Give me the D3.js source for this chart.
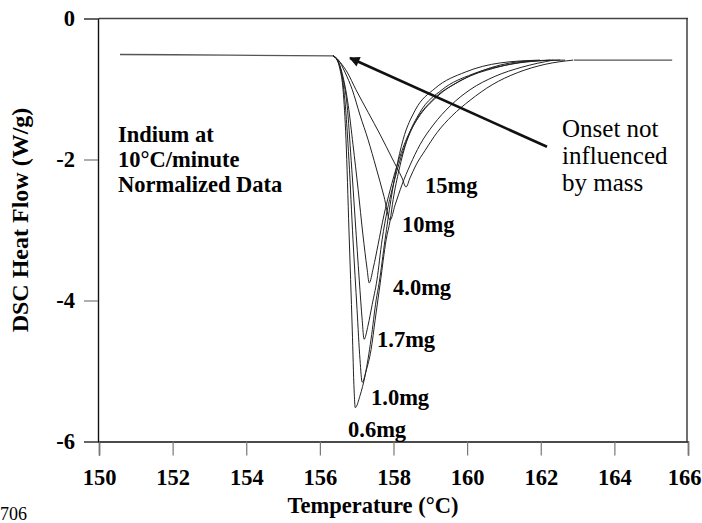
<!DOCTYPE html>
<html><head><meta charset="utf-8">
<script src="https://cdn.jsdelivr.net/npm/d3@7"></script>
<style>
html,body{margin:0;padding:0;background:#fff;}
svg{display:block;font-family:"Liberation Serif","Times New Roman",serif;}
</style></head>
<body>
<svg id="c" width="702" height="523"></svg>
<script>
// ---- data ----
const xTicks = [150,152,154,156,158,160,162,164,166];
const yTicks = [0,-2,-4,-6];
const seriesNames = ["0.6mg","1.0mg","1.7mg","4.0mg","10mg","15mg"];
const baseStartT = [150.57,153.5,156.36];
const baseStartHF = [-0.51,-0.52,-0.53];
const baseEndT = [162.9,164.2,165.57];
const baseEndHF = [-0.59,-0.59,-0.59];

const t06 = [156.36,156.47,156.55,156.63,156.71,156.79,156.88,156.93,156.96,157.09,157.23,157.39,157.53,157.61,157.77,157.93,158.07,158.26,158.59,159.13,159.95,160.90,161.98];
const hf06 = [-0.53,-0.59,-0.73,-1.01,-1.72,-3.00,-4.42,-5.27,-5.52,-5.35,-5.06,-4.55,-3.99,-3.75,-3.14,-2.57,-2.15,-1.72,-1.30,-0.99,-0.76,-0.63,-0.59];

const t10 = [156.36,156.47,156.58,156.68,156.79,156.90,157.01,157.09,157.15,157.26,157.39,157.50,157.64,157.80,157.91,157.99,158.15,158.37,158.72,159.32,160.14,161.17,162.26];
const hf10 = [-0.53,-0.59,-0.76,-1.16,-2.01,-3.14,-4.13,-4.84,-5.16,-4.99,-4.70,-4.28,-3.75,-3.14,-2.86,-2.57,-2.15,-1.72,-1.33,-1.01,-0.79,-0.65,-0.59];

const t17 = [156.36,156.49,156.60,156.74,156.85,156.96,157.07,157.15,157.20,157.31,157.42,157.55,157.69,157.83,157.96,158.10,158.32,158.59,159.05,159.76,160.63,161.71,162.53];
const hf17 = [-0.53,-0.60,-0.80,-1.23,-2.01,-2.86,-3.71,-4.28,-4.55,-4.35,-4.06,-3.71,-3.14,-2.72,-2.43,-2.15,-1.79,-1.47,-1.16,-0.90,-0.70,-0.60,-0.59];

const t40 = [156.36,156.49,156.63,156.77,156.90,157.04,157.17,157.28,157.34,157.45,157.58,157.74,157.91,158.10,158.32,158.67,159.18,159.86,160.76,161.85,162.66];
const hf40 = [-0.53,-0.60,-0.83,-1.23,-1.79,-2.43,-3.07,-3.54,-3.75,-3.54,-3.21,-2.79,-2.43,-2.08,-1.75,-1.41,-1.11,-0.87,-0.70,-0.60,-0.59];

const t100 = [156.36,156.52,156.68,156.88,157.09,157.31,157.53,157.74,157.91,158.04,158.23,158.45,158.72,159.08,159.54,160.08,160.76,161.49,162.34];
const hf100 = [-0.53,-0.60,-0.76,-1.01,-1.37,-1.72,-2.12,-2.52,-2.86,-2.65,-2.36,-2.08,-1.79,-1.51,-1.24,-1.01,-0.82,-0.69,-0.59];

const t150 = [156.36,156.55,156.74,156.98,157.31,157.64,157.96,158.23,158.34,158.45,158.61,158.86,159.18,159.59,160.08,160.68,161.36,162.12,162.88];
const hf150 = [-0.53,-0.62,-0.76,-1.01,-1.33,-1.65,-1.98,-2.26,-2.39,-2.26,-2.08,-1.87,-1.62,-1.38,-1.16,-0.94,-0.77,-0.65,-0.59];

const arrowHead = [156.82,-0.56];
const arrowTail = [162.17,-1.82];

// ---- chart ----
const seriesT = [t06,t10,t17,t40,t100,t150];
const seriesHF = [hf06,hf10,hf17,hf40,hf100,hf150];

const svg = d3.select("#c");
const x = d3.scaleLinear().domain([150,166]).range([99,688]);
const y = d3.scaleLinear().domain([-6,0]).range([441.5,18.5]);

// frame
svg.append("line").attr("x1",x(150)).attr("x2",x(166)).attr("y1",y(0)).attr("y2",y(0)).attr("stroke","#444").attr("stroke-width",1.3);
svg.append("line").attr("x1",x(166)-1).attr("x2",x(166)-1).attr("y1",y(0)).attr("y2",y(-6)).attr("stroke","#222").attr("stroke-width",1.3);

const fmt = d => String(d);
const xAxis = svg.append("g").attr("transform",`translate(0,${y(-6)})`)
  .call(d3.axisBottom(x).tickValues(xTicks).tickSize(14).tickFormat(fmt));
const yAxis = svg.append("g").attr("transform",`translate(${x(150)-1},0)`)
  .call(d3.axisLeft(y).tickValues(yTicks).tickSize(14).tickPadding(9).tickFormat(fmt));
[xAxis,yAxis].forEach(g=>{
  g.select(".domain").attr("stroke","#111").attr("stroke-width",1.4);
  g.selectAll(".tick line").attr("stroke","#777").attr("stroke-width",1.2);
  g.selectAll(".tick text").attr("fill","#000").attr("font-family","Liberation Serif").attr("font-weight","bold").attr("font-size",22.5);
});
xAxis.selectAll(".tick text").attr("y",43).attr("dy",0)
  .attr("dx",d=>d===166?-4:0);

const line = d3.line().x(d=>x(d[0])).y(d=>y(d[1])).curve(d3.curveMonotoneX);
const plot = svg.append("g").attr("fill","none").attr("stroke","#222").attr("stroke-width",1);
plot.append("path").attr("d", line(baseStartT.map((t,i)=>[t,baseStartHF[i]]))).attr("stroke","#555").attr("stroke-width",1.4);
plot.append("path").attr("d", line(baseEndT.map((t,i)=>[t,baseEndHF[i]]))).attr("stroke","#555").attr("stroke-width",1.4);
seriesT.forEach((ts,k)=>{
  plot.append("path").attr("d", line(ts.map((t,i)=>[t,seriesHF[k][i]])));
});

// arrow
svg.append("defs").append("marker").attr("id","ah").attr("viewBox","0 0 10 10").attr("refX",9).attr("refY",5)
  .attr("markerWidth",5.5).attr("markerHeight",4).attr("orient","auto")
  .append("path").attr("d","M0,0 L10,5 L0,10 Z").attr("fill","#111");
svg.append("line").attr("x1",x(arrowTail[0])).attr("y1",y(arrowTail[1]))
  .attr("x2",x(arrowHead[0])).attr("y2",y(arrowHead[1]))
  .attr("stroke","#111").attr("stroke-width",2.6).attr("marker-end","url(#ah)");

// labels
const labelPos = [[348,437],[371,405],[377,347],[393,295],[402,232],[425,193]];
svg.append("g").selectAll("text").data(seriesNames).join("text")
  .attr("x",(d,i)=>labelPos[i][0]).attr("y",(d,i)=>labelPos[i][1])
  .attr("font-weight","bold").attr("font-size",22.5).text(d=>d);

const note1 = ["Indium at","10°C/minute","Normalized Data"];
svg.append("g").selectAll("text").data(note1).join("text")
  .attr("x",118).attr("y",(d,i)=>142+i*25).attr("font-weight","bold").attr("font-size",22.5).text(d=>d);
const note2 = ["Onset not","influenced","by mass"];
svg.append("g").selectAll("text").data(note2).join("text")
  .attr("x",562).attr("y",(d,i)=>137+i*27).attr("font-size",25).text(d=>d);

svg.append("text").attr("x",373).attr("y",513).attr("text-anchor","middle").attr("font-weight","bold").attr("font-size",22.5).text("Temperature (°C)");
svg.append("text").attr("transform","translate(28,220) rotate(-90)").attr("text-anchor","middle").attr("font-weight","bold").attr("font-size",24).text("DSC Heat Flow (W/g)");
svg.append("text").attr("x",0).attr("y",520).attr("font-size",18).text("706");
</script>
</body></html>
